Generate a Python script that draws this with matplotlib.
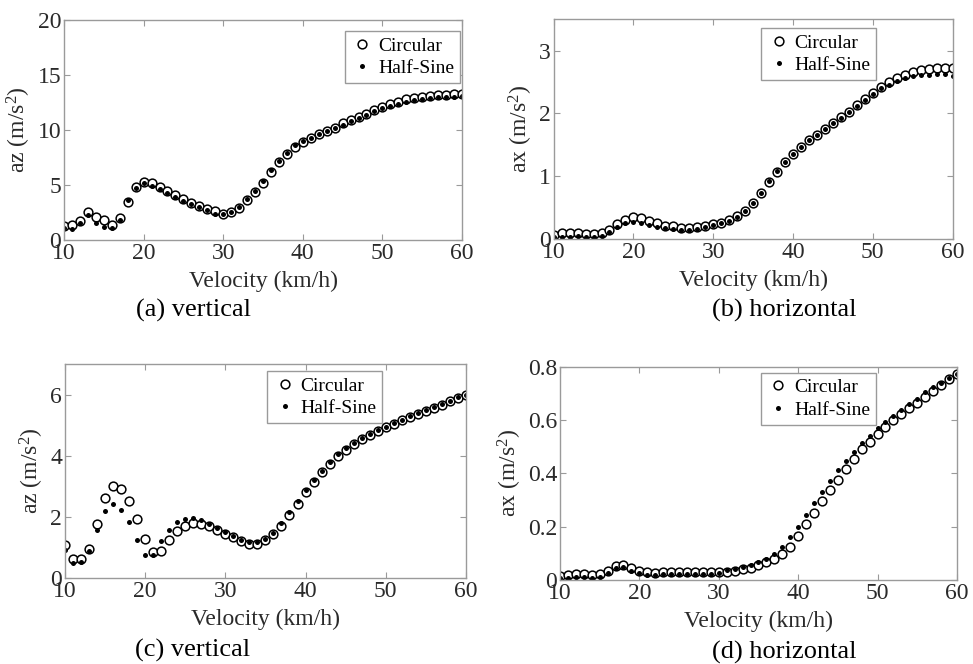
import numpy as np
import matplotlib
matplotlib.use('Agg')
import matplotlib.pyplot as plt
from matplotlib.ticker import FuncFormatter

plt.rcParams['font.family'] = ['Liberation Serif', 'DejaVu Serif']
plt.rcParams['mathtext.fontset'] = 'custom'
plt.rcParams['mathtext.rm'] = 'Liberation Serif'
plt.rcParams['mathtext.it'] = 'Liberation Serif:italic'

velocity = np.arange(10, 61)

# (a) vertical, az
a_circ = [1.3, 1.35, 1.75, 2.5, 2.1, 1.8, 1.35, 2.0, 3.5, 4.85,
          5.3, 5.2, 4.85, 4.45, 4.1, 3.7, 3.4, 3.1, 2.85, 2.6,
          2.35, 2.5, 2.9, 3.6, 4.4, 5.2, 6.2, 7.1, 7.8, 8.5,
          8.9, 9.3, 9.6, 9.9, 10.2, 10.6, 10.9, 11.2, 11.5, 11.8,
          12.1, 12.4, 12.6, 12.8, 12.9, 13.0, 13.1, 13.2, 13.2, 13.3,
          13.3]
a_half = [1.05, 1.0, 1.5, 2.3, 1.5, 1.15, 1.05, 1.8, 3.6, 4.7,
          5.15, 4.9, 4.6, 4.25, 3.9, 3.55, 3.3, 3.0, 2.7, 2.4,
          2.35, 2.55, 3.0, 3.7, 4.5, 5.4, 6.35, 7.2, 7.9, 8.6,
          9.0, 9.3, 9.6, 9.9, 10.2, 10.5, 10.8, 11.1, 11.4, 11.7,
          12.0, 12.2, 12.4, 12.6, 12.7, 12.8, 12.9, 13.0, 13.0, 13.0,
          13.1]

# (b) horizontal, ax
b_circ = [0.06, 0.09, 0.09, 0.09, 0.08, 0.08, 0.1, 0.15, 0.24, 0.31,
          0.35, 0.33, 0.29, 0.25, 0.21, 0.2, 0.18, 0.18, 0.19, 0.21,
          0.24, 0.26, 0.3, 0.36, 0.45, 0.58, 0.74, 0.91, 1.07, 1.22,
          1.35, 1.46, 1.57, 1.66, 1.76, 1.85, 1.94, 2.03, 2.13, 2.23,
          2.32, 2.42, 2.5, 2.56, 2.62, 2.66, 2.69, 2.71, 2.72, 2.72,
          2.72]
b_half = [0.03, 0.04, 0.04, 0.05, 0.04, 0.03, 0.05, 0.12, 0.19, 0.25,
          0.27, 0.26, 0.22, 0.19, 0.17, 0.16, 0.15, 0.15, 0.16, 0.19,
          0.22, 0.25, 0.29, 0.35, 0.45, 0.58, 0.74, 0.92, 1.08, 1.23,
          1.36, 1.47, 1.57, 1.66, 1.75, 1.84, 1.93, 2.03, 2.12, 2.22,
          2.31, 2.4, 2.46, 2.52, 2.56, 2.59, 2.61, 2.62, 2.63, 2.63,
          2.6]

# (c) vertical, az
c_circ = [1.09, 0.62, 0.62, 0.95, 1.78, 2.62, 3.0, 2.91, 2.51, 1.94,
          1.28, 0.84, 0.89, 1.25, 1.53, 1.71, 1.8, 1.78, 1.69, 1.58,
          1.45, 1.33, 1.2, 1.11, 1.12, 1.23, 1.44, 1.71, 2.06, 2.43,
          2.8, 3.13, 3.46, 3.74, 3.98, 4.2, 4.38, 4.55, 4.69, 4.82,
          4.94, 5.05, 5.17, 5.27, 5.37, 5.47, 5.58, 5.68, 5.79, 5.9,
          6.0]
c_half = [0.91, 0.49, 0.51, 0.87, 1.58, 2.18, 2.43, 2.24, 1.82, 1.25,
          0.76, 0.74, 1.22, 1.58, 1.82, 1.94, 1.96, 1.89, 1.77, 1.64,
          1.5, 1.36, 1.23, 1.17, 1.19, 1.29, 1.49, 1.8, 2.15, 2.51,
          2.87, 3.2, 3.51, 3.81, 4.05, 4.25, 4.42, 4.58, 4.71, 4.84,
          4.96, 5.07, 5.18, 5.29, 5.39, 5.5, 5.6, 5.7, 5.81, 5.91,
          6.0]

# (d) horizontal, ax
d_circ = [0.016, 0.019, 0.021, 0.024, 0.02, 0.022, 0.035, 0.054, 0.058, 0.045,
          0.035, 0.03, 0.028, 0.029, 0.029, 0.029, 0.029, 0.029, 0.029, 0.029,
          0.03, 0.031, 0.035, 0.04, 0.045, 0.055, 0.066, 0.078, 0.098, 0.125,
          0.166, 0.209, 0.253, 0.296, 0.338, 0.376, 0.415, 0.456, 0.49, 0.519,
          0.548, 0.575, 0.6, 0.623, 0.644, 0.665, 0.688, 0.709, 0.731, 0.753,
          0.773]
d_half = [0.006, 0.009, 0.01, 0.012, 0.008, 0.011, 0.028, 0.044, 0.048, 0.035,
          0.028, 0.02, 0.019, 0.021, 0.021, 0.021, 0.021, 0.021, 0.021, 0.022,
          0.025, 0.038, 0.04, 0.048, 0.056, 0.066, 0.079, 0.096, 0.123, 0.16,
          0.2, 0.244, 0.29, 0.331, 0.373, 0.413, 0.448, 0.481, 0.513, 0.54,
          0.569, 0.594, 0.616, 0.638, 0.66, 0.681, 0.704, 0.723, 0.741, 0.759,
          0.775]

panels = [
    ([0.0658, 0.6386, 0.409, 0.331], a_circ, a_half, 'az', 20, [0, 5, 10, 15, 20], (0.706, 0.95)),
    ([0.569, 0.640, 0.410, 0.331], b_circ, b_half, 'ax', 3.5, [0, 1, 2, 3], (0.521, 0.959)),
    ([0.0668, 0.1295, 0.412, 0.322], c_circ, c_half, 'az', 7, [0, 2, 4, 6], (0.504, 0.967)),
    ([0.5755, 0.1265, 0.408, 0.321], d_circ, d_half, 'ax', 0.8, [0, 0.2, 0.4, 0.6, 0.8], (0.506, 0.972)),
]
captions = [(193, 310, '(a) vertical'), (784, 310, '(b) horizontal'),
            (193, 650, '(c) vertical'), (784, 652, '(d) horizontal')]

fig = plt.figure(figsize=(9.73, 6.64), dpi=100)
gray = '#9a9a9a'
txt = '#2a2a2a'

for rect, circ, half, name, ymax, yt, leg in panels:
    ax = fig.add_axes(rect)
    ax.plot(velocity, circ, 'o', ms=6.3, mfc='white', mec='black', mew=1.1, label='Circular')
    ax.plot(velocity, half, 'o', ms=3.6, mfc='black', mec='black', mew=0, label='Half-Sine')
    ax.set_xlim(10, 60)
    ax.set_ylim(0, ymax)
    ax.set_xticks([10, 20, 30, 40, 50, 60])
    ax.set_yticks(yt)
    ax.yaxis.set_major_formatter(FuncFormatter(lambda v, p: '%g' % v))
    ax.tick_params(direction='in', top=True, right=True, length=4, width=0.8,
                   color=gray, labelsize=17, labelcolor=txt, pad=2)
    for s in ax.spines.values():
        s.set_color(gray)
        s.set_linewidth(1.0)
    ax.set_xlabel('Velocity (km/h)', fontsize=17, color=txt, labelpad=5)
    ax.set_ylabel(name + r' (m/s$^2$)', fontsize=17, color=txt, labelpad=3)
    lg = ax.legend(loc='upper left', bbox_to_anchor=leg, borderaxespad=0,
                   fontsize=14, fancybox=False, edgecolor=gray, framealpha=1,
                   handletextpad=0.2, handlelength=1.2, borderpad=0.3,
                   labelspacing=0.25)
    lg.get_frame().set_linewidth(1.0)

for x, y, s in captions:
    fig.text(x / 973, 1 - y / 664, s, ha='center', va='center', fontsize=19, color='black')

fig.savefig('out.png', dpi=100)
